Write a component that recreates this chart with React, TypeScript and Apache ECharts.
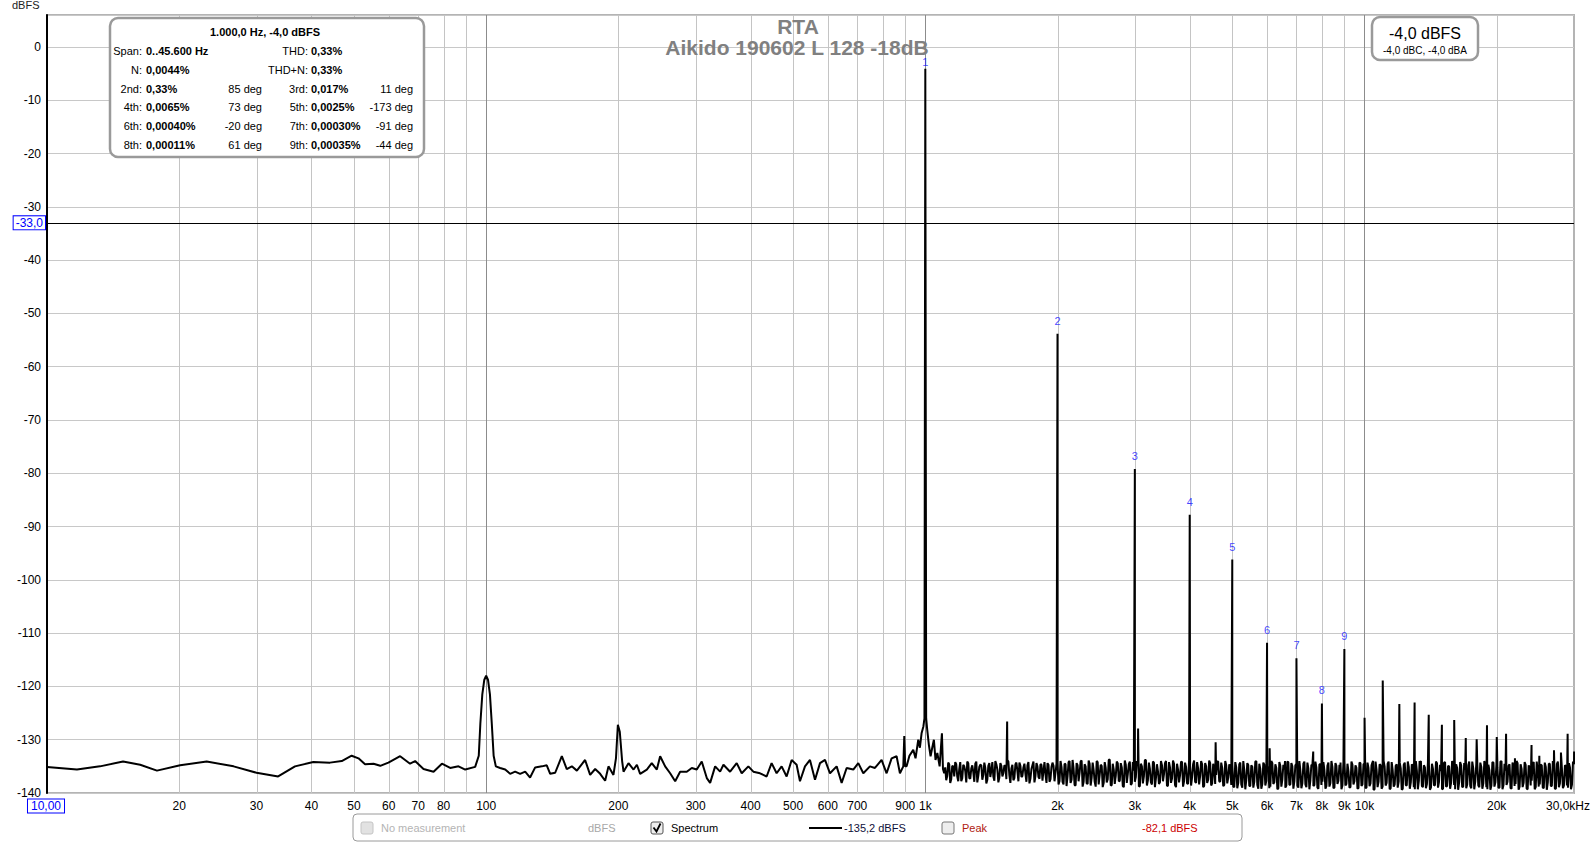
import React, { useEffect, useRef } from 'react';
import * as echarts from 'echarts';

const FONT = '"Liberation Sans", Arial, sans-serif';
const X_MIN = 10;
const X_MAX = 30000;
const Y_MIN = -140;
const Y_MAX = 6;
const Y_STEP = 10;
const MARKER_DB = -33;

// Low-frequency part of the spectrum (10 Hz .. 108 Hz), incl. the 100 Hz hum peak
const lowHz = [10, 11.7, 13.2, 14.9, 16.3, 17.8, 20.1, 23.1, 26.6, 30.0,
  33.6, 36.7, 40.4, 44.1, 46.9, 49.4, 51.2, 53.0, 55.4, 57.4,
  59.9, 63.7, 67.1, 68.9, 72.0, 75.9, 79.3, 82.8, 86.5, 89.6,
  94.4, 96.2, 97.0, 98.0, 99.0, 100, 101, 102, 103, 104, 105.2, 107.6];
const lowDb = [-135.1, -135.6, -135.0, -134.1, -134.7, -135.8, -134.8, -134.1, -135.0, -136.2,
  -136.9, -135.0, -134.2, -134.3, -134.0, -133.0, -133.5, -134.6, -134.5, -134.9,
  -134.3, -133.1, -134.5, -134.0, -135.5, -136.0, -134.5, -135.3, -135.0, -135.6,
  -135.1, -133.0, -127.0, -121.5, -118.8, -118.0, -118.8, -121.5, -127.0, -133.0, -135.0, -135.3];

// Mid part (110 Hz .. 1.1 kHz) around the fundamental
const midHz = [110.5, 113.4, 116.4, 119.5, 122.7, 125.9, 129.3, 133.9, 137.4, 139.9,
  143.6, 148.7, 152.6, 156.7, 160.9, 168.0, 172.5, 177.1, 181.8, 186.6,
  189.9, 194.9, 197.5, 199.5, 201.5, 204.0, 205.5, 210.9, 216.6, 220.4,
  224.2, 232.2, 238.3, 244.7, 249.0, 255.6, 262.4, 269.4, 276.5, 286.3,
  293.9, 301.7, 309.7, 318.0, 323.6, 332.2, 341.0, 347.0, 359.3, 372.0,
  381.9, 395.4, 405.9, 420.3, 435.2, 446.7, 458.6, 470.8, 483.3, 496.2,
  509.3, 518.3, 532.1, 546.2, 560.8, 575.7, 591.0, 606.7, 628.2, 644.9,
  662.0, 685.5, 703.7, 722.4, 748.0, 767.9, 795.1, 816.3, 838.0, 860.2,
  875.4, 891.0, 895.6, 900.0, 906.6, 920.0, 938.7, 950.0, 963.7, 972.0,
  980.6, 990.0, 995.5, 1004.5, 1010.0, 1019.0, 1028.0, 1037.0, 1046.0, 1055.0,
  1065.0, 1078.0, 1091.0, 1097.0, 1104.0];
const midDb = [-135.6, -136.4, -136.0, -136.4, -136.0, -137.1, -135.2, -135.0, -134.8, -136.4,
  -136.2, -133.1, -135.5, -135.0, -135.8, -133.8, -136.6, -135.5, -136.4, -137.7,
  -135.0, -136.6, -133.5, -127.2, -128.5, -134.0, -136.0, -134.4, -135.6, -134.7,
  -136.4, -135.6, -134.4, -135.6, -133.1, -135.0, -136.3, -137.8, -136.0, -136.0,
  -135.3, -135.6, -134.1, -137.2, -138.1, -135.0, -136.0, -134.7, -136.0, -134.4,
  -136.3, -135.0, -136.0, -136.3, -136.9, -134.4, -136.3, -135.0, -136.9, -133.8,
  -134.7, -137.8, -135.0, -133.8, -137.5, -134.4, -133.8, -136.3, -135.0, -138.1,
  -135.3, -135.6, -134.4, -136.3, -135.0, -135.3, -133.8, -136.3, -133.5, -133.1,
  -136.3, -135.0, -129.3, -135.0, -135.0, -133.0, -131.9, -133.5, -130.0, -131.5,
  -128.8, -127.5, -126.0, -126.0, -128.1, -131.0, -133.1, -131.5, -130.0, -133.8,
  -132.5, -135.0, -128.8, -135.5, -136.3];

// Fundamental and harmonics with their marker labels
const harmonicHz = [1000, 2000, 3000, 4000, 5000, 6000, 7000, 8000, 9000];
const harmonicDb = [-4.1, -53.8, -79.2, -87.8, -96.2, -111.8, -114.7, -123.2, -113.0];
const harmonicLabels = ['1', '2', '3', '4', '5', '6', '7', '8', '9'];

// Further discrete spurs / higher harmonics
const spurHz = [1535, 3050, 4580, 6080, 6590, 7640, 8816, 10000, 10457, 11000,
  12000, 13000, 13345, 14000, 15000, 16000, 17000, 18000, 19000, 20000,
  21000, 22000, 24000, 25000, 27000, 28000, 29000, 30000];
const spurDb = [-126.6, -127.9, -130.5, -131.6, -134.0, -132.2, -134.3, -125.9, -134.0, -118.9,
  -123.3, -123.0, -134.0, -125.3, -127.2, -126.3, -129.7, -129.9, -127.3, -129.5,
  -128.9, -133.5, -131.0, -133.0, -132.0, -132.4, -128.9, -132.2];

// Noise floor levels, read as a band, in four frequency ranges
const noiseRangesHz = [[1110, 2000], [2000, 5000], [5000, 10000], [10000, 30000]];
const noiseA = [-135.2, -136.8, -134.6, -137.4, -135.0, -134.2, -136.9, -135.5, -137.8, -134.7,
  -135.9, -134.1, -137.2, -135.4, -136.1, -134.5, -138.0, -135.1, -134.8, -136.6,
  -135.3, -137.5, -134.4, -135.8, -136.9, -134.0, -135.6, -137.1, -134.9, -136.3,
  -135.0, -133.8, -136.7, -135.4, -137.6, -134.6, -135.9, -134.3, -137.0, -135.2,
  -136.4, -134.8, -138.2, -135.5, -134.1, -136.8, -135.0, -137.3, -134.7, -135.8,
  -136.5, -134.4, -137.9, -135.1, -134.9, -136.2];
const noiseB = [-134.3, -137.8, -135.1, -138.4, -134.6, -136.9, -134.0, -137.5, -135.4, -138.6,
  -134.8, -136.2, -133.9, -137.9, -135.0, -138.3, -134.5, -137.1, -135.7, -138.8,
  -134.2, -136.6, -134.9, -138.1, -135.3, -137.4, -133.7, -138.5, -135.6, -136.8,
  -134.4, -137.7, -135.2, -138.9, -134.7, -136.4, -134.1, -138.2, -135.8, -137.0,
  -134.6, -138.7, -135.0, -136.9, -133.8, -137.6, -135.5, -138.4, -134.3, -137.2,
  -135.9, -138.0, -134.8, -136.5, -134.0, -138.6, -135.2, -137.3, -134.5, -138.9,
  -135.6, -136.7, -134.2, -137.8, -135.1, -138.3, -134.9, -137.0, -133.9, -138.1,
  -135.4, -136.8, -134.6, -138.7, -135.0, -137.5, -134.4, -138.2, -135.7, -136.6,
  -134.1, -137.9, -135.3, -138.5, -134.8, -137.1, -135.5];
const noiseC = [-134.6, -138.9, -135.2, -138.1, -134.3, -139.0, -135.7, -137.6, -134.8, -138.7,
  -135.1, -137.9, -134.0, -139.2, -135.5, -138.3, -134.7, -137.7, -135.9, -138.8,
  -134.4, -138.0, -135.3, -139.1, -134.9, -137.5, -135.6, -138.6, -134.2, -138.4,
  -135.0, -137.8, -134.5, -139.0, -135.8, -138.2, -134.1, -138.9, -135.4, -137.6,
  -134.8, -138.5, -135.2, -139.2, -134.6, -137.9, -135.7, -138.7, -134.3, -138.1,
  -135.1, -139.0, -134.9, -137.7, -135.5, -138.6, -134.0, -138.3, -135.9, -138.9,
  -134.7, -137.8, -135.3, -139.1, -134.4, -138.4];
const noiseD = [-134.5, -139.0, -135.3, -138.2, -134.2, -139.3, -135.6, -137.9, -134.8, -138.8,
  -135.0, -138.1, -134.1, -139.1, -135.7, -138.4, -134.6, -137.8, -135.4, -139.2,
  -134.3, -138.6, -135.1, -138.0, -134.9, -139.3, -135.8, -137.7, -134.0, -138.9,
  -135.2, -138.3, -134.7, -139.0, -135.5, -138.5, -134.4, -137.9, -135.9, -139.2,
  -134.2, -138.7, -135.0, -138.1, -134.6, -139.3, -135.3, -138.0, -134.8, -138.8,
  -135.6, -138.4, -134.1, -139.1, -135.4, -137.8, -134.5, -138.9, -135.1, -138.2,
  -134.9, -139.3, -135.7, -138.6, -134.3, -138.0, -135.2, -139.0, -134.0, -138.5,
  -135.8, -137.9, -134.6, -139.2, -135.0, -138.3, -134.4, -138.8, -135.5, -138.1,
  -134.7, -139.3, -135.3, -137.7, -134.2, -138.9, -135.9, -138.4, -134.8, -139.1,
  -135.1, -138.0, -134.5, -138.7, -135.6, -139.2, -134.1, -138.2, -135.4, -138.6,
  -134.9, -139.0, -135.2, -138.4, -134.6];
// Noise levels of the in-between bins (half a step further up in frequency)
const noiseA2 = [-137.6, -134.3, -138.1, -134.9, -136.9, -134.6, -137.8, -134.2, -137.2, -135.0,
  -138.0, -134.4, -137.3, -134.8, -137.9, -134.1, -136.8, -134.7, -137.5, -134.3,
  -138.2, -134.9, -137.0, -134.2, -137.7, -134.6, -138.0, -134.4, -136.9, -134.8,
  -137.4, -134.1, -138.1, -134.7, -137.2, -134.3, -137.8, -134.9, -136.8, -134.5,
  -137.9, -134.2, -137.3, -134.8, -138.0, -134.4, -137.0, -134.6, -137.7, -134.2,
  -138.1, -134.7, -137.4, -134.3, -137.8, -134.5];
const noiseB2 = [-138.4, -134.0, -137.9, -134.5, -138.7, -134.2, -138.1, -133.8, -138.5, -134.4,
  -137.8, -134.1, -138.8, -134.6, -138.2, -133.9, -138.6, -134.3, -137.9, -134.0,
  -138.4, -134.7, -138.9, -134.2, -138.0, -133.8, -138.6, -134.5, -138.3, -134.1,
  -137.8, -134.4, -138.7, -133.9, -138.1, -134.6, -138.5, -134.2, -137.9, -134.0,
  -138.8, -134.5, -138.2, -133.8, -138.6, -134.3, -138.0, -134.1, -138.9, -134.6,
  -138.3, -134.0, -137.8, -134.4, -138.7, -134.2, -138.1, -133.9, -138.5, -134.5,
  -138.0, -134.1, -138.8, -134.3, -138.2, -133.8, -138.6, -134.6, -137.9, -134.2,
  -138.4, -134.0, -138.9, -134.4, -138.1, -133.9, -138.6, -134.5, -138.3, -134.1,
  -137.8, -134.3, -138.7, -134.0, -138.2, -134.6, -138.5];
const noiseC2 = [-138.8, -134.2, -139.1, -134.6, -138.4, -134.0, -139.3, -134.4, -138.7, -134.8,
  -139.0, -134.1, -138.5, -134.5, -139.2, -134.3, -138.6, -134.9, -139.1, -134.0,
  -138.3, -134.6, -139.3, -134.2, -138.8, -134.7, -139.0, -134.1, -138.5, -134.4,
  -139.2, -134.8, -138.6, -134.0, -139.1, -134.5, -138.4, -134.3, -139.3, -134.7,
  -138.7, -134.1, -139.0, -134.6, -138.5, -134.2, -139.2, -134.9, -138.8, -134.0,
  -139.1, -134.4, -138.3, -134.7, -139.3, -134.2, -138.6, -134.5, -139.0, -134.1,
  -138.4, -134.8, -139.2, -134.3, -138.7, -134.6];
const noiseD2 = [-139.1, -134.3, -138.7, -134.8, -139.4, -134.1, -138.9, -134.6, -139.2, -134.0,
  -138.6, -134.5, -139.3, -134.2, -138.8, -134.9, -139.0, -134.3, -139.4, -134.7,
  -138.5, -134.1, -139.2, -134.6, -138.9, -134.0, -139.3, -134.4, -138.7, -134.8,
  -139.1, -134.2, -139.4, -134.5, -138.6, -134.1, -139.0, -134.7, -139.3, -134.3,
  -138.8, -134.9, -139.2, -134.0, -138.5, -134.6, -139.4, -134.2, -138.9, -134.4,
  -139.1, -134.8, -138.7, -134.1, -139.3, -134.5, -138.6, -134.3, -139.2, -134.0,
  -138.9, -134.7, -139.4, -134.2, -138.8, -134.6, -139.0, -134.1, -139.3, -134.5,
  -138.5, -134.9, -139.1, -134.3, -138.7, -134.0, -139.4, -134.6, -138.9, -134.2,
  -139.2, -134.8, -138.6, -134.4, -139.3, -134.1, -138.8, -134.7, -139.0, -134.3,
  -139.4, -134.5, -138.7, -134.0, -139.2, -134.6, -138.9, -134.2, -139.1, -134.8,
  -138.6, -134.4, -139.3, -134.1];
const noiseLevels = [noiseA, noiseB, noiseC, noiseD];
const noiseLevelsMid = [noiseA2, noiseB2, noiseC2, noiseD2];

// X-axis grid frequencies and tick labels
const gridHz = [10, 20, 30, 40, 50, 60, 70, 80, 90, 100, 200, 300, 400, 500, 600, 700, 800, 900,
  1000, 2000, 3000, 4000, 5000, 6000, 7000, 8000, 9000, 10000, 20000, 30000];
const gridLabels = ['10,00', '20', '30', '40', '50', '60', '70', '80', '', '100', '200', '300', '400', '500', '600', '700', '', '900',
  '1k', '2k', '3k', '4k', '5k', '6k', '7k', '8k', '9k', '10k', '20k', '30,0kHz'];
const majorHz = [100, 1000, 10000];

// Info box texts
const infoTitle = '1.000,0 Hz, -4,0 dBFS';
const infoRows = [
  ['Span:', '0..45.600 Hz', '', 'THD:', '0,33%', ''],
  ['N:', '0,0044%', '', 'THD+N:', '0,33%', ''],
  ['2nd:', '0,33%', '85 deg', '3rd:', '0,017%', '11 deg'],
  ['4th:', '0,0065%', '73 deg', '5th:', '0,0025%', '-173 deg'],
  ['6th:', '0,00040%', '-20 deg', '7th:', '0,00030%', '-91 deg'],
  ['8th:', '0,00011%', '61 deg', '9th:', '0,00035%', '-44 deg'],
];
const levelMain = '-4,0 dBFS';
const levelSub = '-4,0 dBC, -4,0 dBA';
const titleLines = ['RTA', 'Aikido 190602 L 128 -18dB'];

function buildSpectrum(): number[][] {
  const pts: number[][] = [];
  lowHz.forEach((f, i) => pts.push([f, lowDb[i]]));
  midHz.forEach((f, i) => pts.push([f, midDb[i]]));
  harmonicHz.forEach((f, i) => pts.push([f, harmonicDb[i]]));
  spurHz.forEach((f, i) => pts.push([f * 1.0005, spurDb[i]]));
  noiseRangesHz.forEach(([a, b], r) => {
    const lv = noiseLevels[r];
    const lvMid = noiseLevelsMid[r];
    const last = r === noiseRangesHz.length - 1;
    const n = last ? lv.length - 1 : lv.length;
    lv.forEach((d, i) => {
      pts.push([a * Math.pow(b / a, i / n), d]);
    });
    lvMid.forEach((d, i) => {
      if (i < n) pts.push([a * Math.pow(b / a, (i + 0.5) / n), d]);
    });
  });
  pts.sort((p, q) => p[0] - q[0]);
  return pts;
}

function txt(x: number, y: number, text: string, o: any = {}) {
  const align = o.align || 'left';
  return {
    type: 'text',
    x,
    y,
    silent: true,
    z: 100,
    style: {
      text,
      fill: o.color || '#000',
      fontSize: o.size || 11,
      fontFamily: FONT,
      fontWeight: o.bold ? 'bold' : 'normal',
      align,
      textAlign: align,
      verticalAlign: 'middle',
      textVerticalAlign: 'middle',
    },
  };
}

function buildGraphic(): any[] {
  const g: any[] = [];
  // axis unit
  g.push(txt(12, 5, 'dBFS', { size: 11, color: '#222' }));
  // title
  g.push(txt(798, 26, titleLines[0], { size: 21, bold: true, color: '#808080', align: 'center' }));
  g.push(txt(797, 47, titleLines[1], { size: 21, bold: true, color: '#808080', align: 'center' }));
  // info box
  g.push({
    type: 'rect', z: 90, silent: true,
    shape: { x: 110, y: 18, width: 314, height: 139, r: 8 },
    style: { fill: '#fff', stroke: '#9a9a9a', lineWidth: 2.5 },
  });
  g.push(txt(265, 32, infoTitle, { bold: true, align: 'center' }));
  const cols = [
    { x: 142, align: 'right', bold: false },
    { x: 146, align: 'left', bold: true },
    { x: 262, align: 'right', bold: false },
    { x: 308, align: 'right', bold: false },
    { x: 311, align: 'left', bold: true },
    { x: 413, align: 'right', bold: false },
  ];
  infoRows.forEach((row, r) => {
    const y = 51 + r * 18.8;
    row.forEach((s, c) => {
      if (s) g.push(txt(cols[c].x, y, s, { align: cols[c].align, bold: cols[c].bold }));
    });
  });
  // level box
  g.push({
    type: 'rect', z: 90, silent: true,
    shape: { x: 1372, y: 17, width: 106, height: 43, r: 8 },
    style: { fill: '#fff', stroke: '#9a9a9a', lineWidth: 2.5 },
  });
  g.push(txt(1425, 33, levelMain, { size: 16, align: 'center' }));
  g.push(txt(1425, 50, levelSub, { size: 10, align: 'center' }));
  // bottom legend
  g.push({
    type: 'rect', z: 90, silent: true,
    shape: { x: 353, y: 814, width: 889, height: 27, r: 4 },
    style: { fill: '#fff', stroke: '#9a9a9a', lineWidth: 1 },
  });
  g.push({ type: 'rect', z: 95, silent: true, shape: { x: 361, y: 822, width: 12, height: 12, r: 2 }, style: { fill: '#e2e2e2', stroke: '#c4c4c4', lineWidth: 1 } });
  g.push(txt(381, 828, 'No measurement', { color: '#b4b4b4' }));
  g.push(txt(588, 828, 'dBFS', { color: '#a8a8a8' }));
  g.push({ type: 'rect', z: 95, silent: true, shape: { x: 651, y: 822, width: 12, height: 12, r: 2 }, style: { fill: '#eeeeee', stroke: '#555', lineWidth: 1 } });
  g.push({ type: 'polyline', z: 96, silent: true, shape: { points: [[653.5, 827.5], [656.5, 831.5], [660.5, 823.5]] }, style: { stroke: '#000', lineWidth: 1.8, fill: null } });
  g.push(txt(671, 828, 'Spectrum', { color: '#000' }));
  g.push({ type: 'line', z: 95, silent: true, shape: { x1: 809, y1: 828, x2: 842, y2: 828 }, style: { stroke: '#000', lineWidth: 2 } });
  g.push(txt(844, 828, '-135,2 dBFS', { color: '#10103a' }));
  g.push({ type: 'rect', z: 95, silent: true, shape: { x: 942, y: 822, width: 12, height: 12, r: 2 }, style: { fill: '#eeeeee', stroke: '#777', lineWidth: 1 } });
  g.push(txt(962, 828, 'Peak', { color: '#b02010' }));
  g.push(txt(1142, 828, '-82,1 dBFS', { color: '#cc0000' }));
  return g;
}

export default function App() {
  const ref = useRef<HTMLDivElement>(null);
  useEffect(() => {
    if (!ref.current) return;
    const chart = echarts.init(ref.current, undefined, { renderer: 'svg' });
    const spectrum = buildSpectrum();
    const gridData = gridHz.map((f) => [f, Y_MIN]);
    const harmonicPoints = harmonicHz.map((f, i) => ({
      value: [f, harmonicDb[i]],
      label: { distance: i === 0 ? 1 : 7 },
    }));

    const option: any = {
      animation: false,
      backgroundColor: '#fff',
      grid: {
        left: 47, right: 22, top: 15, bottom: 49,
        show: true, borderColor: '#b4b4b4', borderWidth: 2, backgroundColor: 'transparent',
      },
      xAxis: {
        type: 'log', logBase: 10, min: X_MIN, max: X_MAX,
        axisLabel: { show: false }, axisTick: { show: false },
        axisLine: { show: false }, splitLine: { show: false },
      },
      yAxis: {
        type: 'value', min: Y_MIN, max: Y_MAX, interval: Y_STEP,
        axisLabel: {
          fontSize: 12, color: '#000', fontFamily: FONT, margin: 6, showMaxLabel: false,
          formatter: (v: number) => (v > 0 ? '' : String(v)),
        },
        axisLine: { show: true, lineStyle: { color: '#000', width: 2 } },
        axisTick: { show: false },
        splitLine: { show: true, lineStyle: { color: '#c8c8c8', width: 1 } },
      },
      series: [
        {
          type: 'custom',
          z: 1,
          silent: true,
          clip: false,
          data: gridData,
          encode: { x: 0, y: 1 },
          renderItem: (params: any, api: any) => {
            const i = params.dataIndex;
            const f = api.value(0);
            const top = api.coord([f, Y_MAX]);
            const bot = api.coord([f, Y_MIN]);
            const children: any[] = [];
            const x = Math.round(bot[0]) + 0.5;
            if (f > X_MIN && f < X_MAX) {
              children.push({
                type: 'line',
                shape: { x1: x, y1: top[1], x2: x, y2: bot[1] },
                style: { stroke: majorHz.includes(f) ? '#8c8c8c' : '#c4c4c4', lineWidth: 1 },
              });
            }
            const label = gridLabels[i];
            if (label) {
              const isFirst = f === X_MIN;
              const isLast = f === X_MAX;
              children.push({
                type: 'text',
                x: isFirst ? bot[0] - 1 : isLast ? bot[0] + 16 : bot[0],
                y: bot[1] + 13,
                style: {
                  text: label,
                  fill: isFirst ? '#0000ff' : '#000',
                  fontSize: 12,
                  fontFamily: FONT,
                  align: isLast ? 'right' : 'center',
                  textAlign: isLast ? 'right' : 'center',
                  verticalAlign: 'middle',
                  textVerticalAlign: 'middle',
                  borderColor: isFirst ? '#0000ff' : undefined,
                  borderWidth: isFirst ? 1 : 0,
                  backgroundColor: isFirst ? '#fff' : undefined,
                  padding: isFirst ? [1, 3, 0, 3] : 0,
                },
              });
            }
            return { type: 'group', children };
          },
        },
        {
          type: 'line',
          z: 3,
          silent: true,
          showSymbol: false,
          symbol: 'none',
          data: spectrum,
          lineStyle: { color: '#000', width: 2 },
          markLine: {
            silent: true,
            symbol: ['none', 'none'],
            lineStyle: { color: '#000', width: 1, type: 'solid' },
            label: {
              show: true, position: 'start', distance: 2,
              formatter: '-33,0', color: '#0000ff', fontSize: 12, fontFamily: FONT,
              borderColor: '#0000ff', borderWidth: 1, padding: [1, 2, 0, 2], backgroundColor: '#fff',
            },
            data: [{ yAxis: MARKER_DB }],
          },
        },
        {
          type: 'scatter',
          z: 4,
          silent: true,
          symbolSize: 1,
          itemStyle: { color: 'rgba(0,0,0,0)' },
          data: harmonicPoints,
          label: {
            show: true, position: 'top', distance: 7,
            formatter: (p: any) => harmonicLabels[p.dataIndex],
            color: '#1414ff', fontSize: 11, fontFamily: FONT,
          },
        },
      ],
      graphic: buildGraphic(),
    };
    chart.setOption(option);
    return () => chart.dispose();
  }, []);
  return (
    <div
      ref={ref}
      style={{ position: 'fixed', left: 0, top: 0, width: '1596px', height: '842px', background: '#fff' }}
    />
  );
}
